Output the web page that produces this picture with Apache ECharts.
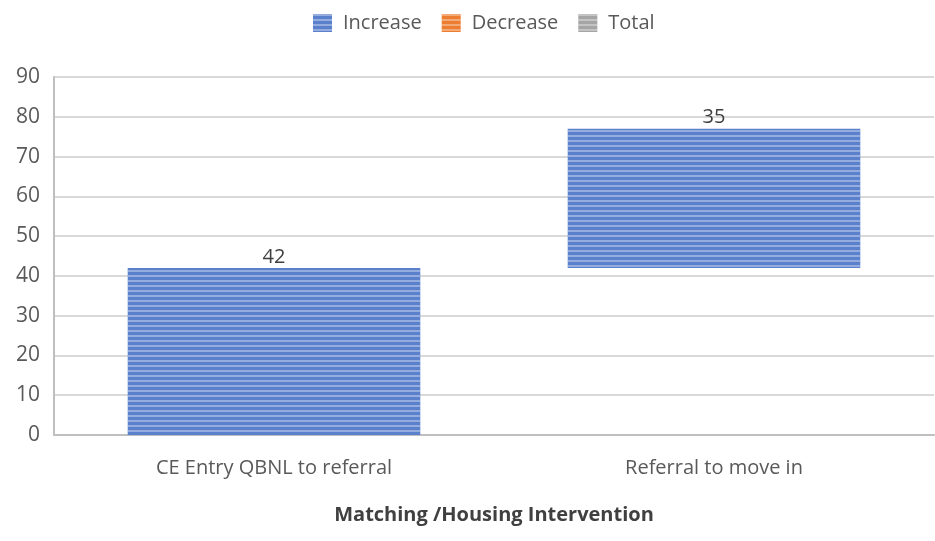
<!DOCTYPE html>
<html>
<head>
<meta charset="utf-8">
<script src="https://cdn.jsdelivr.net/npm/echarts@6/dist/echarts.min.js"></script>
<style>
  html, body { margin: 0; padding: 0; background: #fff; }
  #chart { width: 935px; height: 541px; }
</style>
</head>
<body>
<div id="chart"></div>
<script>
// waterfall data
var categories = ['CE Entry QBNL to referral', 'Referral to move in']
var increaseVals = [42, 35]
var baseVals = [0, 42]   // invisible part under each step
var decreaseVals = []
var totalVals = []
var yTicks = [0, 90, 10]  // min, max, interval

var stripe = {
  symbol: 'rect',
  dashArrayX: [1, 0],
  dashArrayY: [2, 3],
  rotation: 0,
  color: 'rgba(255,255,255,0.35)'
}

var chart = echarts.init(document.getElementById('chart'))
chart.setOption({
  animation: false,
  textStyle: { fontFamily: '"Open Sans", sans-serif' },
  legend: {
    top: 8,
    left: 308,
    icon: 'rect',
    itemWidth: 19,
    itemHeight: 18,
    itemGap: 20,
    textStyle: { fontSize: 20, color: '#595959', padding: [0, 0, 0, 6] },
    data: ['Increase', 'Decrease', 'Total']
  },
  grid: { left: 54, right: 1, top: 77, bottom: 106, containLabel: false },
  xAxis: {
    type: 'category',
    data: categories,
    axisLine: { lineStyle: { color: '#bfbfbf', width: 2 } },
    axisTick: { show: false },
    axisLabel: { fontSize: 20, color: '#595959', margin: 23 },
    name: 'Matching /Housing Intervention',
    nameLocation: 'middle',
    nameGap: 70,
    nameTextStyle: { fontSize: 20, fontWeight: 'bold', color: '#404040' }
  },
  yAxis: {
    type: 'value',
    min: yTicks[0],
    max: yTicks[1],
    interval: yTicks[2],
    axisLine: { show: true, lineStyle: { color: '#bfbfbf', width: 2 } },
    axisTick: { show: false },
    axisLabel: { fontSize: 21, color: '#595959', margin: 14 },
    splitLine: { lineStyle: { color: '#d9d9d9', width: 2 } }
  },
  series: [
    {
      name: 'base',
      type: 'bar',
      stack: 'w',
      silent: true,
      itemStyle: { color: 'transparent' },
      data: baseVals
    },
    {
      name: 'Increase',
      type: 'bar',
      stack: 'w',
      barWidth: '66.5%',
      itemStyle: { color: '#5b80cc', decal: stripe },
      label: { show: true, position: 'top', fontSize: 20, color: '#404040', distance: 1 },
      data: increaseVals
    },
    {
      name: 'Decrease',
      type: 'bar',
      stack: 'w',
      itemStyle: { color: '#ed7d31', decal: stripe },
      data: decreaseVals
    },
    {
      name: 'Total',
      type: 'bar',
      stack: 'w',
      itemStyle: { color: '#a5a5a5', decal: stripe },
      data: totalVals
    }
  ]
})
</script>
</body>
</html>
